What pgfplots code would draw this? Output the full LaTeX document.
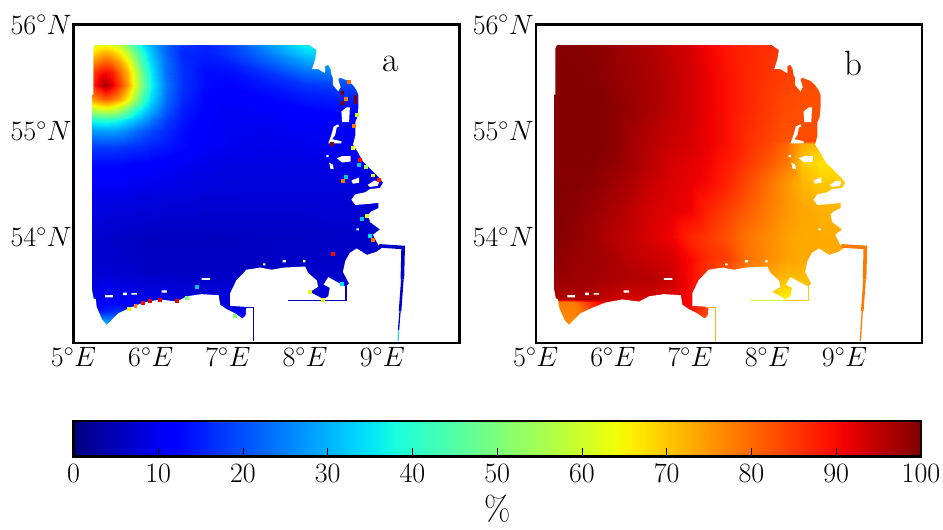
\RequirePackage{fix-cm}
\documentclass[border=0pt]{standalone}
\usepackage{pgfplots}
\usepackage{pgfplotstable}
\pgfplotsset{compat=1.18}
\pgfplotsset{colormap={mjet}{rgb(0cm)=(0,0,.5); rgb(11cm)=(0,0,1); rgb(12cm)=(0,0,1); rgb(34cm)=(0,.86,1); rgb(35cm)=(0,.9,.97); rgb(38cm)=(.1,1,.87); rgb(64cm)=(.94,1,.03); rgb(65cm)=(.97,.96,0); rgb(66cm)=(1,.93,0); rgb(89cm)=(1,.07,0); rgb(91cm)=(.94,0,0); rgb(100cm)=(.5,0,0)}}
\pgfplotstableread[row sep=\\]{
lon lat v\\
5.24 53.15 30\\5.30 53.15 33\\5.41 53.15 35\\5.50 53.15 34\\5.60 53.15 30\\5.70 53.15 25\\5.80 53.15 20\\5.90 53.15 15\\6.00 53.15 14\\6.20 53.15 14\\6.40 53.15 13\\6.70 53.15 12\\7.00 53.15 12\\7.50 53.15 12\\8.00 53.15 12\\8.50 53.15 12\\9.30 53.15 12\\
5.24 53.30 14\\5.30 53.30 14\\5.41 53.30 15\\5.50 53.30 16\\5.60 53.30 17\\5.70 53.30 14\\5.80 53.30 13\\5.90 53.30 12\\6.00 53.30 12\\6.20 53.30 12\\6.40 53.30 11\\6.70 53.30 10\\7.00 53.30 10\\7.50 53.30 10\\8.00 53.30 10\\8.50 53.30 10\\9.30 53.30 10\\
5.24 53.40 9\\5.30 53.40 9\\5.41 53.40 11\\5.50 53.40 11\\5.60 53.40 10\\5.70 53.40 10\\5.80 53.40 10\\5.90 53.40 9\\6.00 53.40 9\\6.20 53.40 9\\6.40 53.40 8\\6.70 53.40 8\\7.00 53.40 8\\7.50 53.40 8\\8.00 53.40 8\\8.50 53.40 8\\9.30 53.40 8\\
5.24 53.70 7\\5.30 53.70 7\\5.41 53.70 7\\5.50 53.70 7\\5.60 53.70 6.5\\5.70 53.70 6.5\\5.80 53.70 6.5\\5.90 53.70 6\\6.00 53.70 6\\6.20 53.70 6\\6.40 53.70 6\\6.70 53.70 6\\7.00 53.70 6\\7.50 53.70 6\\8.00 53.70 6.5\\8.50 53.70 6.5\\9.30 53.70 6.5\\
5.24 54.00 7\\5.30 54.00 7\\5.41 54.00 6.5\\5.50 54.00 6.5\\5.60 54.00 6\\5.70 54.00 6\\5.80 54.00 6\\5.90 54.00 6\\6.00 54.00 5.8\\6.20 54.00 5.8\\6.40 54.00 5.8\\6.70 54.00 5.8\\7.00 54.00 5.8\\7.50 54.00 6\\8.00 54.00 6\\8.50 54.00 6.5\\9.30 54.00 6.5\\
5.24 54.40 9\\5.30 54.40 9\\5.41 54.40 9\\5.50 54.40 9\\5.60 54.40 9\\5.70 54.40 9\\5.80 54.40 8.5\\5.90 54.40 8.5\\6.00 54.40 8.5\\6.20 54.40 8\\6.40 54.40 8\\6.70 54.40 7.5\\7.00 54.40 7.5\\7.50 54.40 7.5\\8.00 54.40 7.5\\8.50 54.40 7.5\\9.30 54.40 8\\
5.24 54.70 13\\5.30 54.70 13\\5.41 54.70 13\\5.50 54.70 13\\5.60 54.70 13\\5.70 54.70 12.5\\5.80 54.70 12\\5.90 54.70 12\\6.00 54.70 11.5\\6.20 54.70 11\\6.40 54.70 10\\6.70 54.70 9\\7.00 54.70 8.5\\7.50 54.70 8.5\\8.00 54.70 8.5\\8.50 54.70 9\\9.30 54.70 9.5\\
5.24 54.85 18\\5.30 54.85 18\\5.41 54.85 18\\5.50 54.85 18\\5.60 54.85 17.5\\5.70 54.85 17\\5.80 54.85 16.5\\5.90 54.85 16\\6.00 54.85 15\\6.20 54.85 14\\6.40 54.85 12.5\\6.70 54.85 10.5\\7.00 54.85 9.5\\7.50 54.85 9\\8.00 54.85 9.5\\8.50 54.85 10\\9.30 54.85 10\\
5.24 55.00 27\\5.30 55.00 28\\5.41 55.00 28\\5.50 55.00 28\\5.60 55.00 27\\5.70 55.00 25\\5.80 55.00 23\\5.90 55.00 21\\6.00 55.00 19\\6.20 55.00 16\\6.40 55.00 13\\6.70 55.00 11\\7.00 55.00 10\\7.50 55.00 9.5\\8.00 55.00 10\\8.50 55.00 10\\9.30 55.00 10\\
5.24 55.10 38\\5.30 55.10 39\\5.41 55.10 40\\5.50 55.10 39\\5.60 55.10 37\\5.70 55.10 34\\5.80 55.10 31\\5.90 55.10 28\\6.00 55.10 24\\6.20 55.10 18\\6.40 55.10 14\\6.70 55.10 11\\7.00 55.10 10\\7.50 55.10 10\\8.00 55.10 11\\8.50 55.10 11\\9.30 55.10 11\\
5.24 55.20 58\\5.30 55.20 60\\5.41 55.20 62\\5.50 55.20 61\\5.60 55.20 56\\5.70 55.20 49\\5.80 55.20 41\\5.90 55.20 35\\6.00 55.20 30\\6.20 55.20 21\\6.40 55.20 15\\6.70 55.20 12\\7.00 55.20 10\\7.50 55.20 11\\8.00 55.20 12\\8.50 55.20 13\\9.30 55.20 13\\
5.24 55.30 75\\5.30 55.30 78\\5.41 55.30 81\\5.50 55.30 79\\5.60 55.30 74\\5.70 55.30 65\\5.80 55.30 54\\5.90 55.30 42\\6.00 55.30 34\\6.20 55.30 23\\6.40 55.30 16\\6.70 55.30 12\\7.00 55.30 11\\7.50 55.30 12\\8.00 55.30 14\\8.50 55.30 15\\9.30 55.30 15\\
5.24 55.43 86\\5.30 55.43 91\\5.41 55.43 97\\5.50 55.43 92\\5.60 55.43 84\\5.70 55.43 74\\5.80 55.43 62\\5.90 55.43 48\\6.00 55.43 37\\6.20 55.43 24\\6.40 55.43 17\\6.70 55.43 13\\7.00 55.43 12\\7.50 55.43 14\\8.00 55.43 17\\8.50 55.43 19\\9.30 55.43 19\\
5.24 55.55 82\\5.30 55.55 87\\5.41 55.55 90\\5.50 55.55 88\\5.60 55.55 80\\5.70 55.55 71\\5.80 55.55 60\\5.90 55.55 46\\6.00 55.55 36\\6.20 55.55 23\\6.40 55.55 17\\6.70 55.55 13\\7.00 55.55 13\\7.50 55.55 17\\8.00 55.55 23\\8.50 55.55 25\\9.30 55.55 25\\
5.24 55.65 75\\5.30 55.65 78\\5.41 55.65 81\\5.50 55.65 79\\5.60 55.65 74\\5.70 55.65 65\\5.80 55.65 54\\5.90 55.65 42\\6.00 55.65 34\\6.20 55.65 23\\6.40 55.65 16.5\\6.70 55.65 14\\7.00 55.65 15\\7.50 55.65 21\\8.00 55.65 28\\8.50 55.65 30\\9.30 55.65 30\\
5.24 55.73 67\\5.30 55.73 70\\5.41 55.73 73\\5.50 55.73 71\\5.60 55.73 66\\5.70 55.73 58\\5.80 55.73 48\\5.90 55.73 39\\6.00 55.73 32\\6.20 55.73 22\\6.40 55.73 16\\6.70 55.73 15\\7.00 55.73 17\\7.50 55.73 24\\8.00 55.73 33\\8.50 55.73 35\\9.30 55.73 35\\
5.24 55.81 60\\5.30 55.81 62\\5.41 55.81 64\\5.50 55.81 62\\5.60 55.81 58\\5.70 55.81 50\\5.80 55.81 42\\5.90 55.81 35\\6.00 55.81 30\\6.20 55.81 22\\6.40 55.81 17\\6.70 55.81 15\\7.00 55.81 18\\7.50 55.81 27\\8.00 55.81 36\\8.50 55.81 36\\9.30 55.81 36\\
}\mapa
\pgfplotstableread[row sep=\\]{
lon lat v\\
5.24 53.15 76\\5.50 53.15 76\\5.75 53.15 80\\6.00 53.15 90\\6.25 53.15 92\\6.50 53.15 92\\6.75 53.15 92\\7.00 53.15 90\\7.25 53.15 80\\7.50 53.15 78\\7.75 53.15 75\\8.00 53.15 70\\8.25 53.15 64\\8.45 53.15 64\\8.70 53.15 70\\9.30 53.15 70\\
5.24 53.39 78\\5.50 53.39 78\\5.75 53.39 88\\6.00 53.39 92\\6.25 53.39 93\\6.50 53.39 93\\6.75 53.39 92\\7.00 53.39 90\\7.25 53.39 85\\7.50 53.39 80\\7.75 53.39 75\\8.00 53.39 70\\8.25 53.39 64\\8.45 53.39 64\\8.70 53.39 70\\9.30 53.39 70\\
5.24 53.41 96\\5.50 53.41 96\\5.75 53.41 96\\6.00 53.41 94\\6.25 53.41 93\\6.50 53.41 93\\6.75 53.41 92\\7.00 53.41 90\\7.25 53.41 85\\7.50 53.41 80\\7.75 53.41 75\\8.00 53.41 70\\8.25 53.41 65\\8.45 53.41 65\\8.70 53.41 70\\9.30 53.41 70\\
5.24 53.60 98\\5.50 53.60 97.5\\5.75 53.60 97\\6.00 53.60 96.5\\6.25 53.60 96\\6.50 53.60 95.5\\6.75 53.60 94\\7.00 53.60 90\\7.25 53.60 85\\7.50 53.60 81\\7.75 53.60 76\\8.00 53.60 73\\8.25 53.60 71\\8.45 53.60 71\\8.70 53.60 71\\9.30 53.60 71\\
5.24 53.80 99\\5.50 53.80 98\\5.75 53.80 97.5\\6.00 53.80 96.5\\6.25 53.80 95\\6.50 53.80 94\\6.75 53.80 93\\7.00 53.80 90\\7.25 53.80 86\\7.50 53.80 84\\7.75 53.80 79\\8.00 53.80 76.5\\8.25 53.80 74\\8.45 53.80 73\\8.70 53.80 73\\9.30 53.80 73\\
5.24 54.00 99.7\\5.50 54.00 98.5\\5.75 54.00 97.2\\6.00 54.00 95.5\\6.25 54.00 94.5\\6.50 54.00 92.5\\6.75 54.00 91\\7.00 54.00 87\\7.25 54.00 85\\7.50 54.00 82\\7.75 54.00 78.5\\8.00 54.00 76.5\\8.25 54.00 74\\8.45 54.00 73\\8.70 54.00 73\\9.30 54.00 73\\
5.24 54.25 99.8\\5.50 54.25 99\\5.75 54.25 98\\6.00 54.25 96.5\\6.25 54.25 95\\6.50 54.25 93\\6.75 54.25 92\\7.00 54.25 91\\7.25 54.25 87\\7.50 54.25 84\\7.75 54.25 81\\8.00 54.25 78\\8.25 54.25 75\\8.45 54.25 73.5\\8.70 54.25 72.5\\9.30 54.25 72\\
5.24 54.50 99.8\\5.50 54.50 99.5\\5.75 54.50 98.8\\6.00 54.50 97.5\\6.25 54.50 96\\6.50 54.50 94\\6.75 54.50 92.5\\7.00 54.50 91.5\\7.25 54.50 90\\7.50 54.50 87\\7.75 54.50 83\\8.00 54.50 79\\8.25 54.50 75\\8.45 54.50 72\\8.70 54.50 70\\9.30 54.50 70\\
5.24 54.70 99.5\\5.50 54.70 99.8\\5.75 54.70 99.5\\6.00 54.70 98.5\\6.25 54.70 97\\6.50 54.70 95\\6.75 54.70 93\\7.00 54.70 92\\7.25 54.70 90.5\\7.50 54.70 88\\7.75 54.70 85\\8.00 54.70 82\\8.25 54.70 78\\8.45 54.70 70\\8.70 54.70 67\\9.30 54.70 67\\
5.24 54.87 99.5\\5.50 54.87 99.8\\5.75 54.87 99.8\\6.00 54.87 99\\6.25 54.87 97\\6.50 54.87 95.5\\6.75 54.87 94\\7.00 54.87 93\\7.25 54.87 91\\7.50 54.87 89\\7.75 54.87 86\\8.00 54.87 84\\8.25 54.87 80\\8.45 54.87 73\\8.70 54.87 71\\9.30 54.87 70\\
5.24 54.90 99.5\\5.50 54.90 99.8\\5.75 54.90 99.8\\6.00 54.90 99\\6.25 54.90 97\\6.50 54.90 95.5\\6.75 54.90 94\\7.00 54.90 93\\7.25 54.90 91\\7.50 54.90 89\\7.75 54.90 86\\8.00 54.90 84\\8.25 54.90 82\\8.45 54.90 83\\8.70 54.90 83\\9.30 54.90 83\\
5.24 55.20 99.5\\5.50 55.20 99.8\\5.75 55.20 99.8\\6.00 55.20 99\\6.25 55.20 98\\6.50 55.20 96.5\\6.75 55.20 95\\7.00 55.20 93.5\\7.25 55.20 91\\7.50 55.20 89\\7.75 55.20 87\\8.00 55.20 85\\8.25 55.20 83\\8.45 55.20 82.5\\8.70 55.20 82.5\\9.30 55.20 82.5\\
5.24 55.50 99.7\\5.50 55.50 99.7\\5.75 55.50 99.5\\6.00 55.50 98.4\\6.25 55.50 97.5\\6.50 55.50 96.5\\6.75 55.50 95\\7.00 55.50 93.5\\7.25 55.50 91\\7.50 55.50 89\\7.75 55.50 87\\8.00 55.50 85.5\\8.25 55.50 84\\8.45 55.50 83\\8.70 55.50 83\\9.30 55.50 83\\
5.24 55.81 99.5\\5.50 55.81 99.5\\5.75 55.81 99\\6.00 55.81 98\\6.25 55.81 97\\6.50 55.81 96\\6.75 55.81 94.5\\7.00 55.81 93\\7.25 55.81 90.5\\7.50 55.81 88.5\\7.75 55.81 87\\8.00 55.81 86\\8.25 55.81 85\\8.45 55.81 84\\8.70 55.81 84\\9.30 55.81 84\\
}\mapb
% land and open water left white, as polygons separated by nan rows
\pgfplotstableread[row sep=\\]{
lon lat\\
10 56\\8.05 56\\8.05 55.81\\8.15 55.76\\8.13 55.67\\8.09 55.58\\8.17 55.58\\8.26 55.54\\8.26 55.61\\8.30 55.62\\8.33 55.58\\8.34 55.53\\8.36 55.50\\8.36 55.43\\8.43 55.37\\8.46 55.41\\8.43 55.48\\8.45 55.50\\8.56 55.47\\8.62 55.43\\8.66 55.39\\8.69 55.34\\8.69 55.22\\8.68 55.13\\8.65 55.08\\8.65 54.95\\8.62 54.87\\8.69 54.79\\8.75 54.71\\8.86 54.63\\8.97 54.55\\9.01 54.51\\8.97 54.46\\8.84 54.45\\8.78 54.42\\8.65 54.40\\8.60 54.35\\8.65 54.30\\8.82 54.31\\8.95 54.32\\8.95 54.27\\8.86 54.24\\8.82 54.21\\8.84 54.14\\8.97 54.07\\8.88 54.02\\8.95 53.92\\9.02 53.91\\8.93 53.86\\8.80 53.83\\8.67 53.89\\8.58 53.85\\8.52 53.77\\8.49 53.67\\8.57 53.56\\8.53 53.53\\8.45 53.56\\8.30 53.62\\8.24 53.55\\8.32 53.52\\8.30 53.44\\8.24 53.41\\8.17 53.44\\8.06 53.48\\8.17 53.53\\8.15 53.59\\8.04 53.66\\8.00 53.72\\7.72 53.71\\7.57 53.69\\7.42 53.71\\7.24 53.69\\7.11 53.59\\7.03 53.47\\7.03 53.35\\7.24 53.34\\7.23 53.26\\7.19 53.23\\7.09 53.28\\6.98 53.32\\6.90 53.36\\6.88 53.45\\6.66 53.46\\6.47 53.44\\6.34 53.39\\6.12 53.41\\5.90 53.38\\5.73 53.33\\5.58 53.28\\5.43 53.17\\5.37 53.22\\5.30 53.34\\5.29 53.41\\5.26 53.42\\5.24 53.50\\5 53.50\\5 53\\10 53\\10 56\\
nan nan\\
5.2 55.34\\5.256 55.34\\5.256 55.78\\5.28 55.815\\5.28 55.85\\5.2 55.85\\5.2 55.34\\
nan nan\\
8.47 55.18\\8.54 55.22\\8.58 55.22\\8.57 55.08\\8.48 55.08\\8.47 55.18\\
nan nan\\
8.43 55.06\\8.37 55.04\\8.34 54.96\\8.30 54.88\\8.47 54.88\\8.47 54.90\\8.35 54.92\\8.39 54.96\\8.41 55.03\\8.44 55.04\\8.43 55.06\\
nan nan\\
8.41 54.74\\8.48 54.76\\8.59 54.76\\8.59 54.71\\8.48 54.70\\8.41 54.74\\
nan nan\\
8.31 54.70\\8.36 54.68\\8.37 54.64\\8.33 54.64\\8.31 54.70\\
nan nan\\
8.60 54.53\\8.70 54.56\\8.70 54.51\\8.62 54.50\\8.60 54.53\\
nan nan\\
8.81 54.49\\8.90 54.53\\8.96 54.52\\8.94 54.48\\8.84 54.47\\8.81 54.49\\
nan nan\\
8.275 54.75\\8.305 54.75\\8.305 54.77\\8.275 54.77\\8.275 54.75\\
nan nan\\
8.665 54.06\\8.695 54.06\\8.695 54.08\\8.665 54.08\\8.665 54.06\\
nan nan\\
7.71 53.76\\7.75 53.76\\7.75 53.78\\7.71 53.78\\7.71 53.76\\
nan nan\\
7.975 53.76\\8.005 53.76\\8.005 53.78\\7.975 53.78\\7.975 53.76\\
nan nan\\
7.455 53.73\\7.485 53.73\\7.485 53.75\\7.455 53.75\\7.455 53.73\\
nan nan\\
6.66 53.595\\6.77 53.595\\6.77 53.61\\6.66 53.61\\6.66 53.595\\
nan nan\\
6.14 53.475\\6.21 53.475\\6.21 53.495\\6.14 53.495\\6.14 53.475\\
nan nan\\
5.64 53.45\\5.69 53.45\\5.69 53.475\\5.64 53.475\\5.64 53.45\\
nan nan\\
5.75 53.455\\5.82 53.455\\5.82 53.47\\5.75 53.47\\5.75 53.455\\
nan nan\\
5.41 53.43\\5.51 53.43\\5.51 53.45\\5.41 53.45\\5.41 53.43\\
}\land
% speckled coastal cells of panel a
\pgfplotstableread[row sep=\\]{
lon lat v\\
8.56 55.46 80\\8.48 55.36 100\\8.65 55.32 100\\8.65 55.29 100\\8.65 55.27 100\\8.49 55.26 100\\8.53 55.30 78\\8.63 55.05 78\\8.67 55.15 60\\8.62 54.84 62\\8.71 54.73 90\\8.78 54.66 55\\8.88 54.58 62\\8.95 54.54 88\\8.34 54.88 100\\8.69 54.68 32\\8.49 54.53 78\\8.53 54.57 32\\5.71 53.32 65\\5.80 53.35 78\\5.90 53.38 90\\5.99 53.40 92\\6.12 53.41 92\\6.34 53.40 92\\6.47 53.43 50\\6.60 53.53 32\\7.09 53.26 50\\8.88 53.97 80\\8.84 54.01 34\\8.80 54.20 62\\8.73 54.17 32\\8.36 53.84 90\\8.06 53.48 62\\8.23 53.41 62\\8.47 53.56 34\\
}\speck
\pgfplotsset{
 mapaxis/.style={
  scale only axis, width=386pt, height=318.5pt,
  xmin=5, xmax=10, ymin=53, ymax=56,
  xtick={5,6,7,8,9}, ytick={54,55,56},
  xticklabels={$5^{\circ}E$,$6^{\circ}E$,$7^{\circ}E$,$8^{\circ}E$,$9^{\circ}E$},
  yticklabels={$54^{\circ}N$,$55^{\circ}N$,$56^{\circ}N$},
  major tick length=0pt, axis line style={line width=2.2pt},
  tick label style={font=\fontsize{28}{32}\selectfont},
  xticklabel style={yshift=-1pt}, yticklabel style={xshift=1.5pt},
  colormap name=mjet, point meta min=0, point meta max=100,
  axis on top, unbounded coords=jump,
 },
 field/.style={surf, shader=interp, point meta=\thisrow{v}},
}
\begin{document}
\begin{tikzpicture}[x=1pt,y=1pt]
\path[use as bounding box] (0,0) rectangle (943,530);
\begin{axis}[mapaxis, at={(73.5pt,187pt)}, anchor=south west]
\addplot[field, mesh/cols=17] table[x=lon,y=lat] {\mapa};
\addplot[fill=white, draw=none] table[x=lon,y=lat] {\land};
\addplot[draw={rgb,1:red,0;green,0;blue,.8}, line width=3.6pt] coordinates {(8.96,53.915) (9.27,53.90) (9.26,53.60)};
\addplot[draw={rgb,1:red,0;green,0;blue,.8}, line width=2.6pt] coordinates {(9.26,53.60) (9.23,53.30)};
\addplot[draw={rgb,1:red,0;green,0;blue,.8}, line width=1.3pt] coordinates {(9.23,53.30) (9.21,53.12)};
\addplot[draw={rgb,1:red,.2;green,.8;blue,1}, line width=1.2pt] coordinates {(9.21,53.12) (9.205,53.02)};
\addplot[draw={rgb,1:red,0;green,0;blue,.75}, line width=1.4pt] coordinates {(8.53,53.54) (8.53,53.40) (7.78,53.40)};
\addplot[draw={rgb,1:red,0;green,0;blue,.75}, line width=1.3pt] coordinates {(7.20,53.335) (7.33,53.335) (7.33,53.02)};
\addplot[scatter, only marks, mark=square*, mark size=1.4pt, point meta=\thisrow{v}, scatter/use mapped color={draw=mapped color,fill=mapped color}] table[x=lon,y=lat] {\speck};
\node[font=\fontsize{35}{38}\selectfont] at (axis cs:9.11,55.63) {a};
\end{axis}
\begin{axis}[mapaxis, at={(535.7pt,187pt)}, anchor=south west]
\addplot[field, mesh/cols=16] table[x=lon,y=lat] {\mapb};
\addplot[fill=white, draw=none] table[x=lon,y=lat] {\land};
\addplot[draw={rgb,1:red,1;green,.47;blue,0}, line width=3.6pt] coordinates {(8.96,53.915) (9.27,53.90) (9.26,53.60)};
\addplot[draw={rgb,1:red,1;green,.47;blue,0}, line width=2.6pt] coordinates {(9.26,53.60) (9.23,53.30)};
\addplot[draw={rgb,1:red,1;green,.47;blue,0}, line width=1.3pt] coordinates {(9.23,53.30) (9.205,53.02)};
\addplot[draw={rgb,1:red,1;green,.8;blue,0}, line width=1.4pt] coordinates {(8.53,53.54) (8.53,53.40) (8.2,53.40)};
\addplot[draw={rgb,1:red,.8;green,1;blue,.2}, line width=1.4pt] coordinates {(8.2,53.40) (7.78,53.40)};
\addplot[draw={rgb,1:red,1;green,.7;blue,0}, line width=1.3pt] coordinates {(7.20,53.335) (7.33,53.335) (7.33,53.02)};
\node[font=\fontsize{35}{38}\selectfont] at (axis cs:9.11,55.63) {b};
\end{axis}
\begin{axis}[scale only axis, width=847.5pt, height=35.5pt, at={(73.5pt,73.5pt)}, anchor=south west,
  xmin=0, xmax=100, ymin=0, ymax=1, xtick={0,10,...,100}, ytick=\empty,
  tick align=inside, xtick pos=bottom, major tick length=8pt, tick style={line width=1pt,black},
  axis line style={line width=2.2pt}, axis on top,
  tick label style={font=\fontsize{28}{32}\selectfont, yshift=-4pt},
  colormap name=mjet, point meta min=0, point meta max=100,
  xlabel={\%}, xlabel style={font=\fontsize{34}{36}\selectfont, yshift=-6pt}]
\addplot[surf, shader=interp, mesh/cols=2, point meta=\thisrow{v}] table[row sep=\\] {x y v\\ 0 0 0\\ 100 0 100\\ 0 1 0\\ 100 1 100\\};
\end{axis}
\end{tikzpicture}
\end{document}
